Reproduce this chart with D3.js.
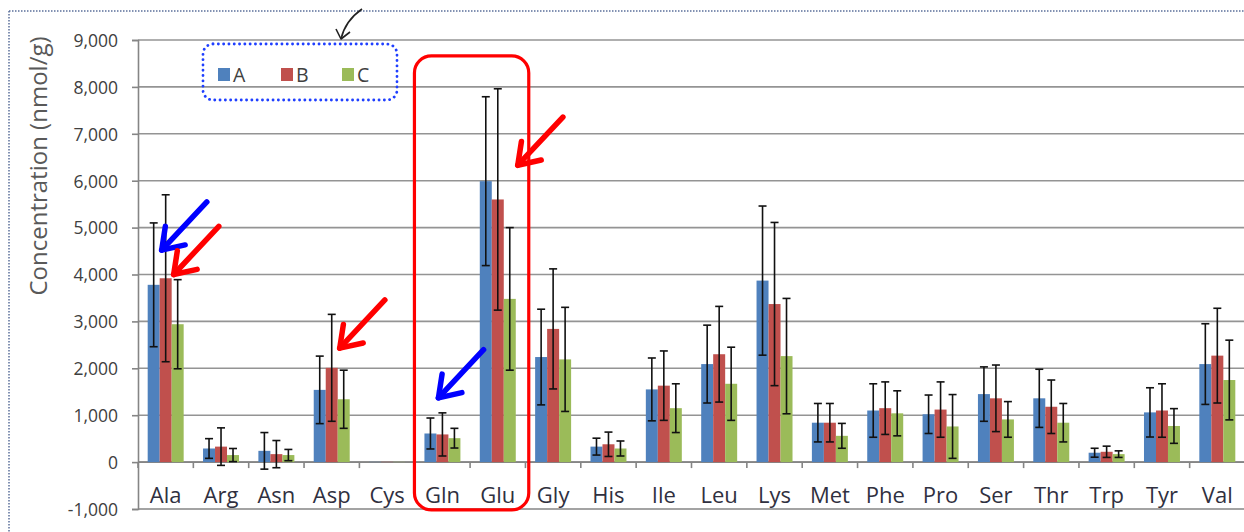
<!DOCTYPE html>
<html>
<head>
<meta charset="utf-8">
<script src="https://cdn.jsdelivr.net/npm/d3@7/dist/d3.min.js"></script>
<style>
  html, body { margin: 0; padding: 0; background: #fff; }
  svg { display: block; }
  text { font-family: "Open Sans", "Noto Sans", sans-serif; }
</style>
</head>
<body>
<svg id="chart" width="1244" height="532"></svg>
<script>
// Amino acid concentrations (nmol/g) for three groups, mean and SD
const categories = ["Ala","Arg","Asn","Asp","Cys","Gln","Glu","Gly","His","Ile",
                    "Leu","Lys","Met","Phe","Pro","Ser","Thr","Trp","Tyr","Val"];
const seriesNames = ["A","B","C"];
const seriesColors = ["#4F81BD","#C0504D","#9BBB59"];

const meanA = [3780, 290, 240, 1540, 5, 610, 5990, 2240, 330, 1550, 2090, 3870, 840, 1100, 1020, 1450, 1360, 200, 1060, 2090];
const meanB = [3920, 330, 170, 2010, 5, 590, 5600, 2840, 380, 1630, 2300, 3370, 840, 1150, 1120, 1360, 1180, 220, 1100, 2270];
const meanC = [2940, 150, 150, 1340, 5, 510, 3480, 2190, 290, 1150, 1670, 2260, 560, 1040, 760, 910, 840, 170, 770, 1750];

const sdA = [1320, 210, 390, 720, 0, 330, 1800, 1020, 180, 670, 830, 1590, 410, 570, 410, 580, 620, 95, 525, 860];
const sdB = [1780, 400, 290, 1140, 0, 460, 2360, 1280, 260, 740, 1020, 1740, 410, 560, 590, 710, 570, 120, 570, 1010];
const sdC = [950, 140, 120, 620, 0, 210, 1520, 1110, 160, 520, 780, 1230, 265, 480, 680, 380, 410, 70, 370, 850];

const yTicks = [-1000, 0, 1000, 2000, 3000, 4000, 5000, 6000, 7000, 8000, 9000];
const yLabel = "Concentration (nmol/g)";

// Callout arrows: category, series index, value at the tip, colour
const callouts = [
  { cat: "Ala", s: 0, tipValue: 4520, color: "#0000ff" },
  { cat: "Ala", s: 1, tipValue: 4000, color: "#ff0000" },
  { cat: "Asp", s: 1, tipValue: 2430, color: "#ff0000" },
  { cat: "Glu", s: 2, tipValue: 6330, color: "#ff0000" },
  { cat: "Gln", s: 0, tipValue: 1370, color: "#0000ff" }
];

const means = [meanA, meanB, meanC];
const sds = [sdA, sdB, sdC];

const svg = d3.select("#chart");
const W = 1244, H = 532;
const plot = { left: 138, right: 1245, top: 40, bottom: 509 };

const x = d3.scaleBand().domain(categories)
  .range([plot.left, plot.right]).paddingInner(0.35).paddingOuter(0.175);
const xs = d3.scaleBand().domain(d3.range(seriesNames.length))
  .range([0, x.bandwidth()]);
const y = d3.scaleLinear().domain([-1000, 9000]).range([plot.bottom, plot.top]);

// Outer dotted frame
svg.append("line").attr("x1", 9).attr("x2", W).attr("y1", 11).attr("y2", 11)
  .attr("stroke", "#5b6f9a").attr("stroke-width", 1.5).attr("stroke-dasharray", "1.5 1.5");
svg.append("line").attr("x1", 9).attr("x2", 9).attr("y1", 11).attr("y2", H)
  .attr("stroke", "#5b6f9a").attr("stroke-width", 1.5).attr("stroke-dasharray", "1.5 1.5");

// Gridlines
svg.append("g")
  .selectAll("line").data(yTicks).join("line")
  .attr("x1", plot.left).attr("x2", W)
  .attr("y1", d => y(d)).attr("y2", d => y(d))
  .attr("stroke", d => d === -1000 ? "#858585" : "#949494")
  .attr("stroke-width", 1.6);

// Y axis (thousands separator, plain hyphen for negatives)
const fmt = d3.format(",");
const yAxis = d3.axisLeft(y).tickValues(yTicks).tickSize(6)
  .tickFormat(d => fmt(d).replace("\u2212", "-"));
const gy = svg.append("g").attr("transform", `translate(${plot.left},0)`).call(yAxis);
gy.select(".domain").attr("stroke", "#858585").attr("stroke-width", 1.6);
gy.selectAll(".tick line").attr("stroke", "#858585").attr("stroke-width", 1.6);
gy.selectAll(".tick text").attr("x", -20).attr("dy", "0.36em").attr("font-size", 17.5)
  .attr("fill", "#404040").attr("font-family", "'Open Sans', sans-serif");

// Category axis along the zero line
const gx = svg.append("g").attr("transform", `translate(0,${y(0)})`);
gx.append("line").attr("x1", plot.left).attr("x2", W).attr("y1", 0).attr("y2", 0)
  .attr("stroke", "#858585").attr("stroke-width", 1.6);
gx.selectAll("line.tk").data(d3.range(categories.length + 1)).join("line")
  .attr("class", "tk")
  .attr("x1", i => plot.left + i * x.step()).attr("x2", i => plot.left + i * x.step())
  .attr("y1", 0).attr("y2", 6)
  .attr("stroke", "#858585").attr("stroke-width", 1.6);
svg.append("g").selectAll("text").data(categories).join("text")
  .attr("x", d => x(d) + x.bandwidth() / 2)
  .attr("y", 503)
  .attr("text-anchor", "middle")
  .attr("font-size", 22)
  .attr("fill", "#303040")
  .text(d => d);

// Axis title
svg.append("text")
  .attr("transform", `translate(47,${166}) rotate(-90)`)
  .attr("text-anchor", "middle")
  .attr("font-size", 24)
  .attr("fill", "#595959")
  .text(yLabel);

// Bars
const rows = [];
categories.forEach((c, i) => {
  seriesNames.forEach((s, j) => {
    rows.push({ cat: c, s: j, mean: means[j][i], sd: sds[j][i] });
  });
});

svg.append("g").selectAll("rect").data(rows).join("rect")
  .attr("x", d => x(d.cat) + xs(d.s))
  .attr("width", xs.bandwidth())
  .attr("y", d => y(Math.max(0, d.mean)))
  .attr("height", d => Math.abs(y(d.mean) - y(0)))
  .attr("fill", d => seriesColors[d.s]);

// Error bars
const eb = svg.append("g").selectAll("g").data(rows.filter(d => d.sd > 0)).join("g")
  .attr("stroke", "#111").attr("stroke-width", 1.6);
const cx = d => x(d.cat) + xs(d.s) + xs.bandwidth() / 2;
eb.append("line")
  .attr("x1", cx).attr("x2", cx)
  .attr("y1", d => y(d.mean + d.sd)).attr("y2", d => y(d.mean - d.sd));
eb.append("line")
  .attr("x1", d => cx(d) - 4).attr("x2", d => cx(d) + 4)
  .attr("y1", d => y(d.mean + d.sd)).attr("y2", d => y(d.mean + d.sd));
eb.append("line")
  .attr("x1", d => cx(d) - 4).attr("x2", d => cx(d) + 4)
  .attr("y1", d => y(d.mean - d.sd)).attr("y2", d => y(d.mean - d.sd));

// Legend
const legend = svg.append("g");
const legendX = [218, 281, 342];
seriesNames.forEach((s, j) => {
  legend.append("rect").attr("x", legendX[j]).attr("y", 68).attr("width", 12).attr("height", 13)
    .attr("fill", seriesColors[j]);
  legend.append("text").attr("x", legendX[j] + 15).attr("y", 82)
    .attr("font-size", 19.5).attr("fill", "#404040").text(s);
});

// Dotted frame around the legend
svg.append("rect")
  .attr("x", 203).attr("y", 44).attr("width", 194).attr("height", 56).attr("rx", 10)
  .attr("fill", "none").attr("stroke", "#1f3fff").attr("stroke-width", 2.8)
  .attr("stroke-linecap", "round").attr("stroke-dasharray", "0.1 5.2");

// Small hand-drawn pointer above the legend
svg.append("path")
  .attr("d", "M362,9 C352,16 344,26 341,39")
  .attr("fill", "none").attr("stroke", "#222").attr("stroke-width", 1.6);
svg.append("path")
  .attr("d", "M336,29 L341,39 L350,32")
  .attr("fill", "none").attr("stroke", "#222").attr("stroke-width", 1.6)
  .attr("stroke-linejoin", "round");

// Red rounded frame around Gln and Glu
const fx0 = x("Gln") - 10, fx1 = x("Glu") + x.bandwidth() + 13;
svg.append("rect")
  .attr("x", fx0).attr("y", y(8660))
  .attr("width", fx1 - fx0).attr("height", y(-1020) - y(8660))
  .attr("rx", 17)
  .attr("fill", "none").attr("stroke", "#ff0000").attr("stroke-width", 3.2);

// Callout arrows
const arrowLen = 66, headLen = 24;
const ang = Math.atan2(48, -45);
callouts.forEach(c => {
  const tx = x(c.cat) + xs(c.s) + xs.bandwidth() / 2 + 8;
  const ty = y(c.tipValue);
  const sx = tx - arrowLen * Math.cos(ang), sy = ty - arrowLen * Math.sin(ang);
  const a1 = ang + Math.PI - 0.6, a2 = ang + Math.PI + 0.6;
  const g = svg.append("g").attr("stroke", c.color).attr("fill", "none")
    .attr("stroke-width", 5.5).attr("stroke-linecap", "round").attr("stroke-linejoin", "round");
  g.append("line").attr("x1", sx).attr("y1", sy).attr("x2", tx).attr("y2", ty);
  g.append("path").attr("d",
    `M${tx + headLen * Math.cos(a1)},${ty + headLen * Math.sin(a1)} L${tx},${ty} L${tx + headLen * Math.cos(a2)},${ty + headLen * Math.sin(a2)}`);
});
</script>
</body>
</html>
